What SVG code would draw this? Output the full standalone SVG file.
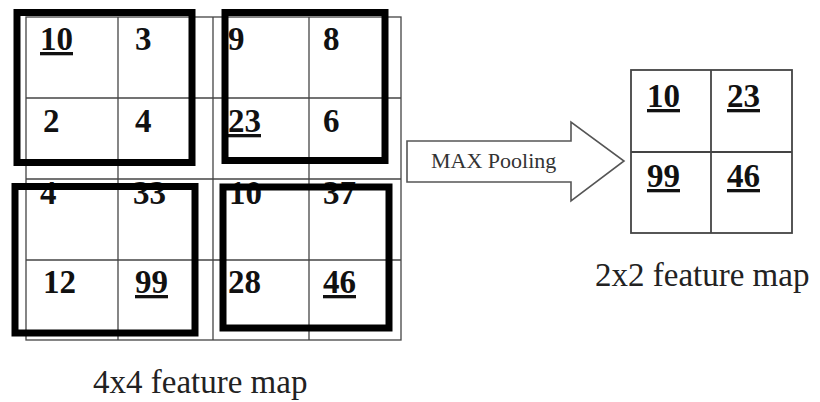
<svg xmlns="http://www.w3.org/2000/svg" width="820" height="402" viewBox="0 0 820 402">
<style>
.grid{fill:none;stroke:#444;stroke-width:1.3}
.grid2{fill:none;stroke:#444;stroke-width:1.8}
.pool{fill:none;stroke:#000;stroke-width:7}
.num{font-family:"Liberation Serif","Times New Roman",serif;font-weight:bold;font-size:33px;fill:#111}
.u{text-decoration:underline}
.lbl{font-family:"Liberation Serif","Times New Roman",serif;font-size:33px;fill:#222}
.arrow{fill:#fff;stroke:#555;stroke-width:1.6}
.alabel{font-family:"Liberation Serif","Times New Roman",serif;font-size:22px;fill:#333}
</style>
<rect width="820" height="402" fill="#fff"/>
<g id="input-map">
  <rect class="grid" x="26" y="17" width="375" height="323"/>
  <line class="grid" x1="118" y1="17" x2="118" y2="340"/>
  <line class="grid" x1="213" y1="17" x2="213" y2="340"/>
  <line class="grid" x1="309" y1="17" x2="309" y2="340"/>
  <line class="grid" x1="26" y1="98" x2="401" y2="98"/>
  <line class="grid" x1="26" y1="179" x2="401" y2="179"/>
  <line class="grid" x1="26" y1="260" x2="401" y2="260"/>
  <text class="num u" x="40" y="50">10</text>
  <text class="num" x="135" y="50">3</text>
  <text class="num" x="228" y="50">9</text>
  <text class="num" x="323" y="50">8</text>
  <text class="num" x="43" y="132">2</text>
  <text class="num" x="135" y="132">4</text>
  <text class="num u" x="228" y="132">23</text>
  <text class="num" x="323" y="132">6</text>
  <text class="num" x="40" y="204">4</text>
  <text class="num" x="133" y="204">33</text>
  <text class="num" x="229" y="204">10</text>
  <text class="num" x="323" y="204">37</text>
  <text class="num" x="43" y="293">12</text>
  <text class="num u" x="135" y="293">99</text>
  <text class="num" x="228" y="293">28</text>
  <text class="num u" x="323" y="293">46</text>
  <rect class="pool" x="17" y="12.5" width="175" height="150"/>
  <rect class="pool" x="225" y="12.5" width="160" height="148"/>
  <rect class="pool" x="15" y="186.5" width="180" height="146.5"/>
  <rect class="pool" x="223" y="187" width="166" height="141"/>
  <text class="lbl" x="93" y="393">4x4 feature map</text>
</g>
<g id="output-map">
  <rect class="grid2" x="631" y="70" width="161" height="163"/>
  <line class="grid2" x1="711" y1="70" x2="711" y2="233"/>
  <line class="grid2" x1="631" y1="152" x2="792" y2="152"/>
  <text class="num u" x="647" y="107">10</text>
  <text class="num u" x="727" y="107">23</text>
  <text class="num u" x="647" y="187">99</text>
  <text class="num u" x="727" y="187">46</text>
  <text class="lbl" x="595" y="286">2x2 feature map</text>
</g>
<g id="connectors">
  <polygon class="arrow" points="407,141 571,141 571,122 624,161 571,201 571,182 407,182"/>
  <text class="alabel" x="431" y="168">MAX Pooling</text>
</g>
</svg>
